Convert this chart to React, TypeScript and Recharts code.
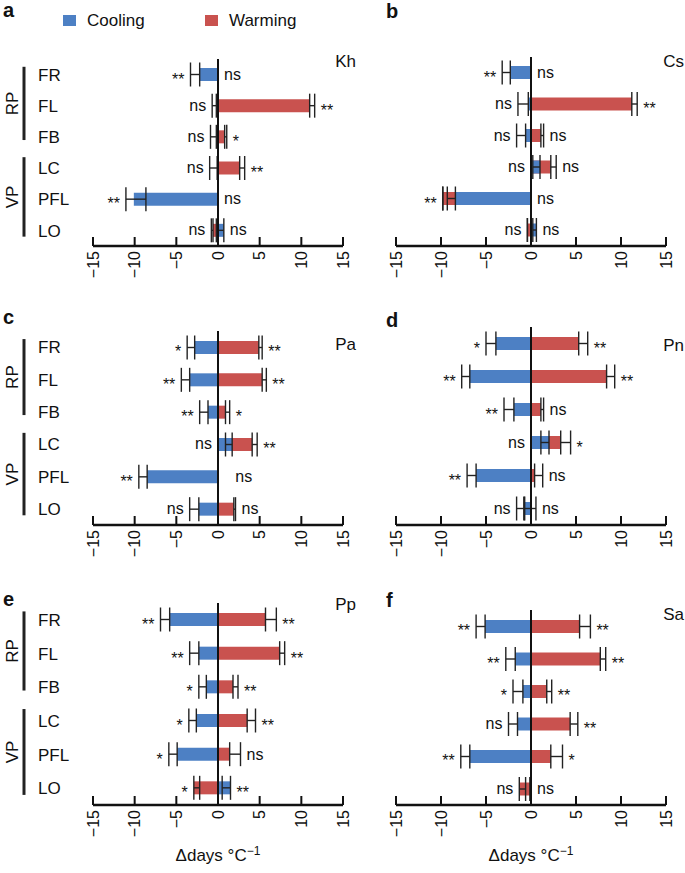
import {
  ComposedChart,
  Bar,
  Line,
  XAxis,
  YAxis,
  ReferenceLine,
  ErrorBar,
  LabelList,
} from "recharts";

const FONT = "'Liberation Sans', Arial, sans-serif";
const BLUE = "#4d80c4";
const RED = "#c9524f";
const INK = "#111";

const categories = ["FR", "FL", "FB", "LC", "PFL", "LO"];
const xTicks = [-15, -10, -5, 0, 5, 10, 15];

// error bars are [towards lower x, towards higher x]
const khCooling = [-2.2, -0.2, -0.2, -0.1, -10.1, 0.7];
const khCoolingErr = [[1.1, 0], [0.5, 0], [0.7, 0], [0.9, 0], [0.95, 1.45], [0.9, 0]];
const khWarming = [0, 11.0, 0.8, 2.6, 0, -0.6];
const khWarmingErr = [[0, 0], [0, 0.6], [0, 0.25], [0, 0.6], [0, 0], [0.2, 0]];
const khCoolingSig = ["**", "ns", "ns", "ns", "**", "ns"];
const khWarmingSig = ["ns", "**", "*", "**", "ns", "ns"];

const csCooling = [-2.3, -0.3, -0.6, 1.0, -8.4, 0.6];
const csCoolingErr = [[0.9, 0], [1.15, 0], [1.0, 0], [0.8, 0], [0.9, 0], [0.4, 0]];
const csWarming = [0, 11.2, 1.1, 2.2, -9.8, -0.4];
const csWarmingErr = [[0, 0], [0, 0.6], [0, 0.3], [0, 0.6], [0, 0], [0, 0]];
const csCoolingSig = ["**", "ns", "ns", "ns", "**", "ns"];
const csWarmingSig = ["ns", "**", "ns", "ns", "ns", "ns"];

const paCooling = [-2.8, -3.4, -1.2, 1.7, -8.5, -2.3];
const paCoolingErr = [[0.9, 0], [1.0, 0], [1.0, 0], [0.8, 0], [1.0, 0], [1.1, 0]];
const paWarming = [4.9, 5.3, 0.9, 4.1, 0, 1.9];
const paWarmingErr = [[0, 0.4], [0, 0.5], [0, 0.5], [0, 0.6], [0, 1.35], [0, 0.2]];
const paCoolingSig = ["*", "**", "**", "ns", "**", "ns"];
const paWarmingSig = ["**", "**", "*", "**", "ns", "ns"];

const pnCooling = [-3.9, -6.8, -1.9, 2.0, -6.1, -0.7];
const pnCoolingErr = [[1.1, 0], [0.9, 0], [1.1, 0], [0.9, 0], [1.0, 0], [0.9, 0]];
const pnWarming = [5.3, 8.4, 1.1, 3.3, 0.4, -0.8];
const pnWarmingErr = [[0, 1.0], [0, 0.9], [0, 0.3], [0, 1.1], [0, 0.9], [0, 1.35]];
const pnCoolingSig = ["*", "**", "**", "ns", "**", "ns"];
const pnWarmingSig = ["**", "**", "ns", "*", "ns", "ns"];

const ppCooling = [-5.8, -2.3, -1.4, -2.6, -4.9, 1.5];
const ppCoolingErr = [[1.1, 0], [1.1, 0], [0.9, 0], [0.9, 0], [1.0, 0], [1.0, 0]];
const ppWarming = [5.7, 7.4, 1.8, 3.5, 1.4, -2.9];
const ppWarmingErr = [[0, 1.3], [0, 0.6], [0, 0.6], [0, 1.0], [0, 1.3], [0, 0.7]];
const ppCoolingSig = ["**", "**", "*", "*", "*", "*"];
const ppWarmingSig = ["**", "**", "**", "**", "ns", "**"];

const saCooling = [-5.1, -1.75, -0.9, -1.5, -6.8, -0.1];
const saCoolingErr = [[1.0, 0], [1.05, 0], [1.1, 0], [1.0, 0], [1.0, 0], [0, 0]];
const saWarming = [5.4, 7.7, 1.75, 4.35, 2.2, -1.3];
const saWarmingErr = [[0, 1.2], [0, 0.6], [0, 0.55], [0, 0.85], [0, 1.3], [0, 0.7]];
const saCoolingSig = ["**", "**", "*", "ns", "**", "ns"];
const saWarmingSig = ["**", "**", "**", "**", "*", "ns"];

interface PanelDef {
  letter: string;
  species: string;
  cooling: number[];
  coolingErr: number[][];
  warming: number[];
  warmingErr: number[][];
  coolingSig: string[];
  warmingSig: string[];
  left: boolean;
  top: number;
  plotTop: number;
  plotBottom: number;
  letterY: number;
  speciesY: number;
}

const panels: PanelDef[] = [
  { letter: "a", species: "Kh", cooling: khCooling, coolingErr: khCoolingErr, warming: khWarming, warmingErr: khWarmingErr, coolingSig: khCoolingSig, warmingSig: khWarmingSig, left: true, top: 0, plotTop: 59, plotBottom: 246, letterY: 17, speciesY: 67 },
  { letter: "b", species: "Cs", cooling: csCooling, coolingErr: csCoolingErr, warming: csWarming, warmingErr: csWarmingErr, coolingSig: csCoolingSig, warmingSig: csWarmingSig, left: false, top: 0, plotTop: 57, plotBottom: 246, letterY: 18, speciesY: 67 },
  { letter: "c", species: "Pa", cooling: paCooling, coolingErr: paCoolingErr, warming: paWarming, warmingErr: paWarmingErr, coolingSig: paCoolingSig, warmingSig: paWarmingSig, left: true, top: 290, plotTop: 331, plotBottom: 525, letterY: 324, speciesY: 350 },
  { letter: "d", species: "Pn", cooling: pnCooling, coolingErr: pnCoolingErr, warming: pnWarming, warmingErr: pnWarmingErr, coolingSig: pnCoolingSig, warmingSig: pnWarmingSig, left: false, top: 290, plotTop: 327, plotBottom: 525, letterY: 327, speciesY: 351 },
  { letter: "e", species: "Pp", cooling: ppCooling, coolingErr: ppCoolingErr, warming: ppWarming, warmingErr: ppWarmingErr, coolingSig: ppCoolingSig, warmingSig: ppWarmingSig, left: true, top: 580, plotTop: 603, plotBottom: 805, letterY: 606, speciesY: 610 },
  { letter: "f", species: "Sa", cooling: saCooling, coolingErr: saCoolingErr, warming: saWarming, warmingErr: saWarmingErr, coolingSig: saCoolingSig, warmingSig: saWarmingSig, left: false, top: 580, plotTop: 610, plotBottom: 805, letterY: 607, speciesY: 620 },
];

const PANEL_H = 290;
const AXIS_H = 40;

function buildRows(p: PanelDef) {
  return categories.map((cat, i) => {
    const c = p.cooling[i];
    const w = p.warming[i];
    const [cl, ch] = p.coolingErr[i];
    const [wl, wh] = p.warmingErr[i];
    return {
      cat,
      cooling: c,
      warming: w,
      coolingErr: [cl, ch],
      warmingErr: [wl, wh],
      leftPos: Math.min(0, c, w, c - cl, w - wl),
      rightPos: Math.max(0, c, w, c + ch, w + wh),
      coolingSig: p.coolingSig[i],
      warmingSig: p.warmingSig[i],
    };
  });
}

const XTick = (props: any) => {
  const { x, y, payload } = props;
  const v = payload.value;
  const label = v < 0 ? `\u2212${Math.abs(v)}` : String(v);
  return (
    <g transform={`translate(${x},${y})`}>
      <line x1={0} y1={0} x2={0} y2={-9} stroke={INK} strokeWidth={2} />
      <text
        transform="rotate(-90)"
        x={-5}
        y={0}
        dy="0.36em"
        textAnchor="end"
        fontSize={16}
        fontFamily={FONT}
        fill={INK}
      >
        {label}
      </text>
    </g>
  );
};

const CatTick = (props: any) => {
  const { x, y, payload } = props;
  return (
    <text x={x - 55} y={y} dy="0.36em" textAnchor="start" fontSize={17} fontFamily={FONT} fill={INK}>
      {payload.value}
    </text>
  );
};

const sigLabel = (side: "left" | "right") => (props: any) => {
  const { x, y, value } = props;
  if (x == null || y == null) return null;
  const star = String(value).startsWith("*");
  return (
    <text
      x={side === "left" ? x - 6 : x + 6}
      y={y + (star ? 10 : 5)}
      textAnchor={side === "left" ? "end" : "start"}
      fontSize={16}
      fontFamily={FONT}
      fill={INK}
    >
      {value}
    </text>
  );
};

function Panel({ p }: { p: PanelDef }) {
  const rows = buildRows(p);
  const chartLeft = p.left ? 0 : 360;
  const chartWidth = p.left ? 360 : 325;
  const margin = {
    top: p.plotTop - p.top,
    bottom: p.top + PANEL_H - p.plotBottom - AXIS_H,
    left: p.left ? 0 : 36,
    right: p.left ? 17 : 19,
  };
  return (
    <div style={{ position: "absolute", left: chartLeft, top: p.top }}>
      <ComposedChart
        layout="vertical"
        width={chartWidth}
        height={PANEL_H}
        data={rows}
        margin={margin}
        barSize={13}
        barGap={-13}
      >
        <XAxis
          type="number"
          domain={[-15, 15]}
          ticks={xTicks}
          interval={0}
          allowDataOverflow
          height={AXIS_H}
          tickSize={0}
          tickMargin={0}
          tickLine={false}
          axisLine={{ stroke: INK, strokeWidth: 2.5 }}
          tick={<XTick />}
        />
        {p.left ? (
          <YAxis
            type="category"
            dataKey="cat"
            width={93}
            tickSize={0}
            tickMargin={0}
            axisLine={false}
            tickLine={false}
            interval={0}
            tick={<CatTick />}
          />
        ) : (
          <YAxis type="category" dataKey="cat" hide />
        )}
        <Bar dataKey="warming" fill={RED} isAnimationActive={false}>
          <ErrorBar dataKey="warmingErr" direction="x" width={12} stroke="#222" strokeWidth={1.4} />
        </Bar>
        <Bar dataKey="cooling" fill={BLUE} isAnimationActive={false}>
          <ErrorBar dataKey="coolingErr" direction="x" width={12} stroke="#222" strokeWidth={1.4} />
        </Bar>
        <ReferenceLine x={0} stroke={INK} strokeWidth={2} />
        <Line
          dataKey="leftPos"
          stroke="transparent"
          strokeWidth={0}
          dot={false}
          activeDot={false}
          isAnimationActive={false}
        >
          <LabelList dataKey="coolingSig" content={sigLabel("left")} />
        </Line>
        <Line
          dataKey="rightPos"
          stroke="transparent"
          strokeWidth={0}
          dot={false}
          activeDot={false}
          isAnimationActive={false}
        >
          <LabelList dataKey="warmingSig" content={sigLabel("right")} />
        </Line>
      </ComposedChart>
    </div>
  );
}

function Annotations() {
  const txt = { fontFamily: FONT, fill: INK } as const;
  const brackets = panels.filter((p) => p.left).map((p) => {
    const band = (p.plotBottom - p.plotTop) / categories.length;
    const rp = [p.plotTop + 0.25 * band, p.plotTop + 2.6 * band];
    const vp = [p.plotTop + 3.15 * band, p.plotTop + 5.7 * band];
    return (
      <g key={p.letter}>
        <line x1={24} x2={24} y1={rp[0]} y2={rp[1]} stroke="#222" strokeWidth={3} />
        <line x1={24} x2={24} y1={vp[0]} y2={vp[1]} stroke="#222" strokeWidth={3} />
        <text transform={`translate(12,${(rp[0] + rp[1]) / 2}) rotate(-90)`} dy="0.36em" textAnchor="middle" fontSize={17} {...txt}>RP</text>
        <text transform={`translate(12,${(vp[0] + vp[1]) / 2}) rotate(-90)`} dy="0.36em" textAnchor="middle" fontSize={17} {...txt}>VP</text>
      </g>
    );
  });
  return (
    <svg width={685} height={873} style={{ position: "absolute", left: 0, top: 0, pointerEvents: "none" }}>
      {/* legend */}
      <rect x={63} y={15} width={13} height={11} fill={BLUE} />
      <text x={87} y={26} fontSize={17} {...txt}>Cooling</text>
      <rect x={205} y={15} width={13} height={11} fill={RED} />
      <text x={229} y={26} fontSize={17} {...txt}>Warming</text>
      {panels.map((p) => (
        <g key={p.letter}>
          <text x={p.left ? 3 : 386} y={p.letterY} fontSize={20} fontWeight="bold" {...txt}>
            {p.letter}
          </text>
          <text x={p.left ? 356 : 684} y={p.speciesY} textAnchor="end" fontSize={17} {...txt}>
            {p.species}
          </text>
        </g>
      ))}
      {brackets}
      <text x={218} y={861} textAnchor="middle" fontSize={17} {...txt}>
        Δdays °C<tspan dy={-6} fontSize={12}>−1</tspan>
      </text>
      <text x={531} y={861} textAnchor="middle" fontSize={17} {...txt}>
        Δdays °C<tspan dy={-6} fontSize={12}>−1</tspan>
      </text>
    </svg>
  );
}

export default function App() {
  return (
    <div style={{ position: "absolute", left: 0, top: 0, width: 685, height: 873, background: "#fff" }}>
      {panels.map((p) => (
        <Panel key={p.letter} p={p} />
      ))}
      <Annotations />
    </div>
  );
}
